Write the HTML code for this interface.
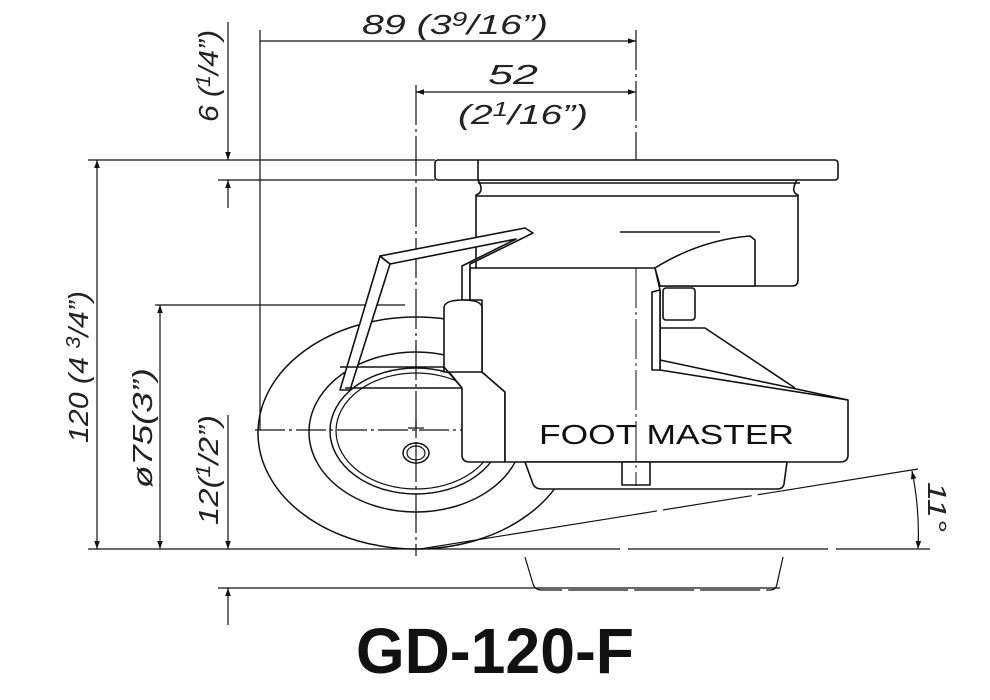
<!DOCTYPE html>
<html><head><meta charset="utf-8"><style>
html,body{margin:0;padding:0;background:#fff;}
svg{display:block;}
text{font-family:"Liberation Sans",sans-serif;}
</style></head><body>
<svg width="990" height="700" viewBox="0 0 990 700" xmlns="http://www.w3.org/2000/svg">
<defs>
<marker id="a" viewBox="0 0 10 10" refX="10" refY="5" markerWidth="16" markerHeight="8" markerUnits="userSpaceOnUse" orient="auto-start-reverse"><path d="M0,1.5 L10,5 L0,8.5 z" fill="#111"/></marker>
</defs>
<g stroke="#111" fill="none" stroke-width="1.2">
<line x1="260" y1="30" x2="260" y2="430"/>
<line x1="88" y1="160" x2="435" y2="160"/>
<line x1="218" y1="180" x2="435" y2="180"/>
<line x1="155" y1="305" x2="405" y2="305"/>
<line x1="88" y1="549" x2="420" y2="549"/>
<line x1="218" y1="588" x2="780" y2="588"/>
<line x1="260" y1="41" x2="636" y2="41" marker-end="url(#a)"/>
<line x1="416" y1="92" x2="636" y2="92" marker-start="url(#a)" marker-end="url(#a)"/>
<line x1="228" y1="22" x2="228" y2="160" marker-end="url(#a)"/>
<line x1="228" y1="208" x2="228" y2="180" marker-end="url(#a)"/>
<line x1="97" y1="160" x2="97" y2="549" marker-start="url(#a)" marker-end="url(#a)"/>
<line x1="160" y1="305" x2="160" y2="549" marker-start="url(#a)" marker-end="url(#a)"/>
<line x1="228" y1="415" x2="228" y2="549" marker-end="url(#a)"/>
<line x1="228" y1="625" x2="228" y2="588" marker-end="url(#a)"/>
<line x1="416" y1="85" x2="416" y2="556" stroke-dasharray="40,4,3,4"/>
<line x1="636" y1="30" x2="636" y2="486" stroke-dasharray="40,4,3,4"/>
<line x1="255" y1="430" x2="520" y2="430" stroke-dasharray="30,4,3,4"/>
<line x1="420" y1="549" x2="930" y2="549" stroke-dasharray="200,8"/>
<line x1="420" y1="549" x2="918" y2="469" stroke-dasharray="240,6,90,6"/>
<path d="M912,471 Q920,510 918,549" marker-start="url(#a)" marker-end="url(#a)"/>
<path d="M525,557 L533,584 Q535,590 542,590 L770,590 Q776,590 777,584 L783,557" stroke-dasharray="60,6"/>
<ellipse cx="416" cy="433" rx="158" ry="116" stroke-width="1.5"/>
<ellipse cx="416" cy="432" rx="107" ry="80" stroke-width="1.5"/>
<ellipse cx="416" cy="431" rx="86" ry="63" stroke-width="1.5"/>
<ellipse cx="416" cy="431" rx="80" ry="58"/>
<ellipse cx="416" cy="453" rx="13" ry="10" stroke-width="1.5"/>
<ellipse cx="416" cy="453" rx="9" ry="7"/>
<line x1="416" y1="420" x2="416" y2="436"/><line x1="408" y1="428" x2="424" y2="428"/>
</g>
<g stroke="#111" fill="#fff" stroke-width="1.6" stroke-linejoin="round">
<path d="M478,180 Q485,192 476,195 L476,280 Q476,286 482,286 L792,286 Q798,286 798,280 L798,195 Q790,192 797,180 Z"/>
<line x1="476" y1="196" x2="798" y2="196"/>
<rect x="435" y="160" width="403" height="20" rx="3"/>
<line x1="478" y1="160" x2="478" y2="180"/>
<line x1="478" y1="183" x2="800" y2="183"/>
<path d="M655,268 Q700,240 750,236 L755,240 L755,286 L660,286 Z"/>
<line x1="620" y1="232" x2="720" y2="232"/>
<!-- fork leg band -->
<path d="M380,256 L340,390 L350,390 L390,264 Z"/>
<!-- fork arm band -->
<path d="M380,256 L525,228 L533,233 L470,264 L470,300 L462,300 L462,266 L516,239 L390,264 Z"/>
<path d="M340,367 L445,367 L462,388 L462,455 Q462,462 470,462 L505,462 L505,392 L482,372 L445,367"/>
<path d="M345,388 L462,388"/>
<path d="M470,268 L655,268 L660,290 L660,370 L848,400 L848,455 Q848,462 840,462 L505,462 L505,392 L482,372 L482,300 L470,300 Z"/>
<path d="M444,372 L444,308 Q444,300 463,300 Q482,300 482,308 L482,372 Z"/>
<line x1="444" y1="367" x2="462" y2="388"/>
<path d="M652,292 L652,370 L660,370 L660,290 Z"/>
<rect x="663" y="288" width="32" height="32" rx="3"/>
<path d="M660,328 L705,328 L795,388"/>
<line x1="660" y1="360" x2="848" y2="400"/>
<path d="M525,462 L533,484 Q535,489 542,489 L777,489 Q783,489 784,484 L787,462 Z"/>
<rect x="622" y="462" width="28" height="23"/>
</g>
<g stroke="#111" fill="none" stroke-width="1">
<line x1="636" y1="268" x2="636" y2="486" stroke-dasharray="40,4,3,4"/>
</g>
<g fill="#222" font-style="italic" font-size="28" lengthAdjust="spacingAndGlyphs">
<text x="362" y="34" textLength="186" lengthAdjust="spacingAndGlyphs">89 (3<tspan font-size="20" dy="-8">9</tspan><tspan dy="8">/16”)</tspan></text>
<text x="488" y="84" textLength="50" lengthAdjust="spacingAndGlyphs">52</text>
<text x="458" y="124" textLength="130" lengthAdjust="spacingAndGlyphs">(2<tspan font-size="20" dy="-8">1</tspan><tspan dy="8">/16”)</tspan></text>
<text transform="translate(218,122) rotate(-90)" textLength="92" lengthAdjust="spacingAndGlyphs">6 (<tspan font-size="20" dy="-8">1</tspan><tspan dy="8">/4”)</tspan></text>
<text transform="translate(88,443) rotate(-90)" textLength="152" lengthAdjust="spacingAndGlyphs">120 (4 <tspan font-size="20" dy="-8">3</tspan><tspan dy="8">/4”)</tspan></text>
<text transform="translate(152,488) rotate(-90)" textLength="120" lengthAdjust="spacingAndGlyphs">ø75(3”)</text>
<text transform="translate(218,525) rotate(-90)" textLength="110" lengthAdjust="spacingAndGlyphs">12(<tspan font-size="20" dy="-8">1</tspan><tspan dy="8">/2”)</tspan></text>
<text transform="translate(928,482) rotate(90)" font-size="26" textLength="50" lengthAdjust="spacingAndGlyphs">11°</text>
</g>
<text x="539" y="444" font-size="28" fill="#111" textLength="255" lengthAdjust="spacingAndGlyphs">FOOT MASTER</text>
<text x="356" y="673" font-size="64" font-weight="bold" fill="#111" textLength="278" lengthAdjust="spacingAndGlyphs">GD-120-F</text>
</svg>
</body></html>
